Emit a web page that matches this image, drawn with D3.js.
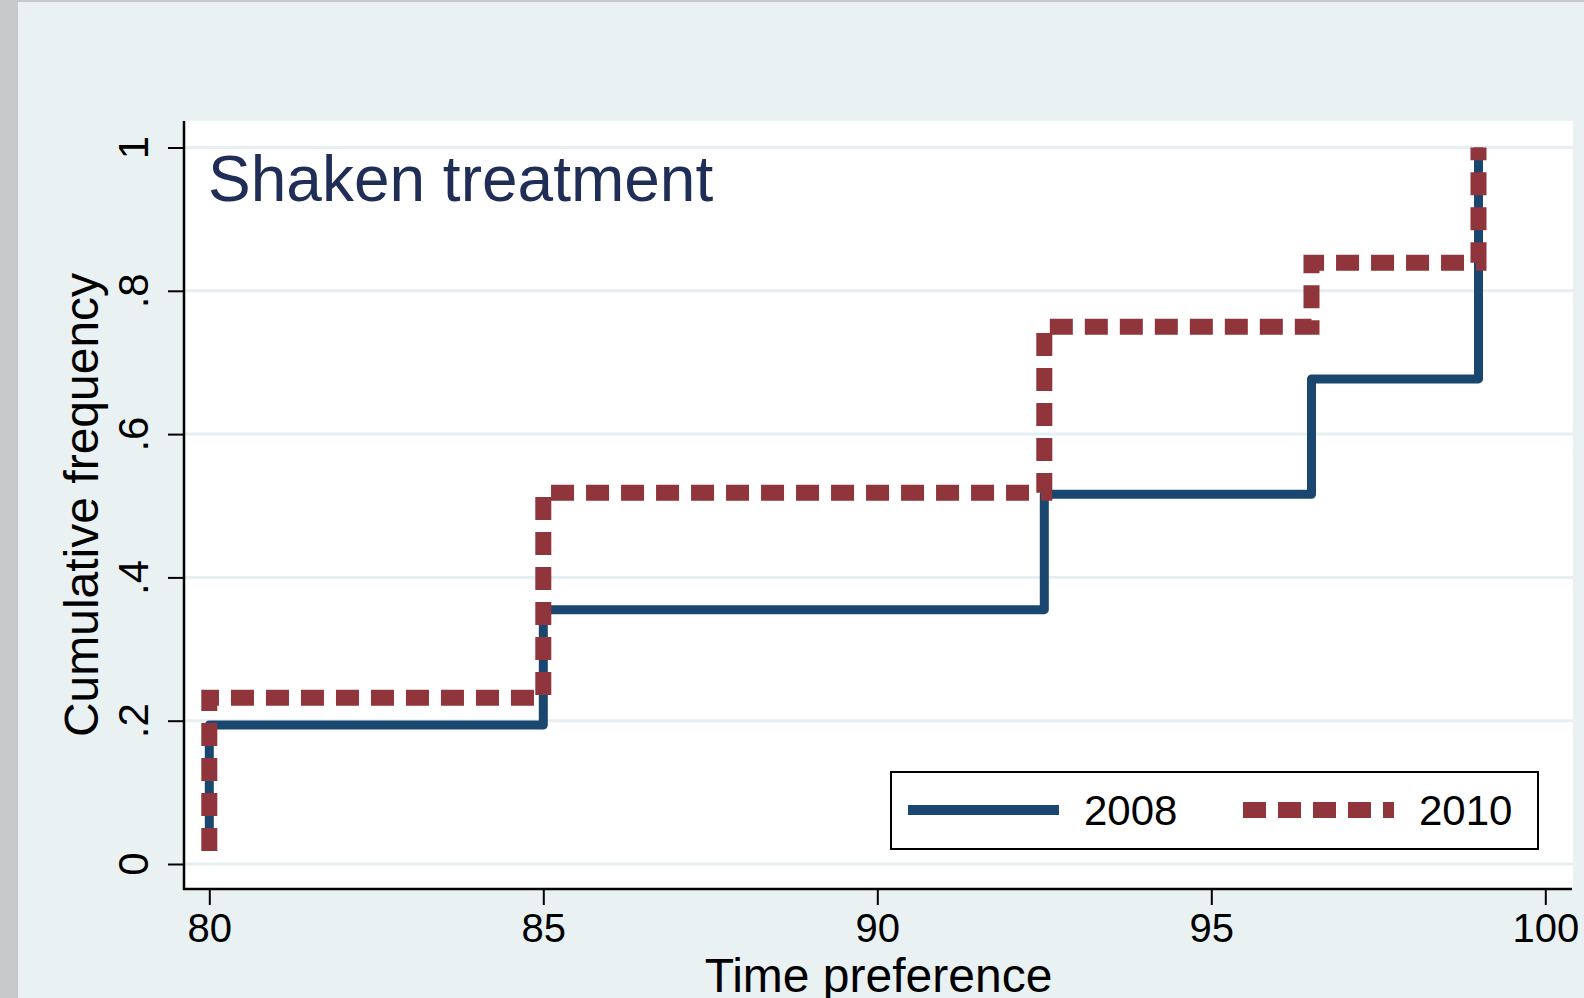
<!DOCTYPE html>
<html><head><meta charset="utf-8">
<script src="https://cdn.jsdelivr.net/npm/d3@7"></script>
<style>
html,body{margin:0;padding:0;background:#e9f1f3;}
svg{display:block;}
text{font-family:"Liberation Sans",Arial,Helvetica,sans-serif;}
</style>
</head><body>
<svg id="c" width="1584" height="998"></svg>
<script>
// ---- data ----
const xTicks = [80, 85, 90, 95, 100];
const xTickLabels = ["80", "85", "90", "95", "100"];
const yTicks = [0, 0.2, 0.4, 0.6, 0.8, 1];
const yTickLabels = ["0", ".2", ".4", ".6", ".8", "1"];
const seriesNames = ["2008", "2010"];
const timePref2008 = [80, 80, 85, 92.5, 96.5, 99];
const cumFreq2008 = [0.032, 0.194, 0.355, 0.516, 0.677, 1.0];
const timePref2010 = [80, 80, 85, 92.5, 96.5, 99];
const cumFreq2010 = [0.018, 0.232, 0.518, 0.750, 0.839, 1.0];
const panelTitle = "Shaken treatment";
const xTitle = "Time preference";
const yTitle = "Cumulative frequency";

// ---- layout ----
const W = 1584, H = 998;
const plot = {left: 184, top: 121, right: 1573, bottom: 889};
const colors = {s2008: "#1a476f", s2010: "#90353b", bg: "#e9f1f3", grid: "#e6eff1", title: "#1f2d57"};

const svg = d3.select("#c");
svg.append("rect").attr("x", 0).attr("y", 0).attr("width", W).attr("height", H).attr("fill", colors.bg);
svg.append("rect").attr("x", 0).attr("y", 0).attr("width", 18).attr("height", H).attr("fill", "#c8c9cb");
svg.append("rect").attr("x", 0).attr("y", 0).attr("width", W).attr("height", 2).attr("fill", "#c8c9cb");

const x = d3.scaleLinear().domain([80, 100]).range([209.3, 1545.3]);
const y = d3.scaleLinear().domain([0, 1]).range([864, 147.5]);

// plot region
svg.append("rect").attr("x", plot.left).attr("y", plot.top)
  .attr("width", plot.right - plot.left).attr("height", plot.bottom - plot.top).attr("fill", "#ffffff");

// gridlines
svg.append("g").selectAll("line").data(yTicks).join("line")
  .attr("x1", plot.left).attr("x2", plot.right)
  .attr("y1", d => y(d)).attr("y2", d => y(d))
  .attr("stroke", colors.grid).attr("stroke-width", 3);

// x axis
const xAxis = d3.axisBottom(x).tickValues(xTicks).tickFormat((d, i) => xTickLabels[i])
  .tickSize(16).tickSizeOuter(0).tickPadding(8.6);
const gx = svg.append("g").attr("transform", `translate(0,${plot.bottom})`).call(xAxis);
gx.select(".domain").remove();
gx.selectAll(".tick line").attr("stroke", "#000").attr("stroke-width", 2);
gx.selectAll(".tick text").attr("fill", "#000").style("font-size", "40px")
  .style("font-family", "'Liberation Sans', Arial, sans-serif");
svg.append("line").attr("x1", plot.left - 1).attr("x2", plot.right - 1)
  .attr("y1", plot.bottom).attr("y2", plot.bottom).attr("stroke", "#000").attr("stroke-width", 2.5);

// y axis
const yAxis = d3.axisLeft(y).tickValues(yTicks).tickFormat("").tickSize(16).tickSizeOuter(0);
const gy = svg.append("g").attr("transform", `translate(${plot.left},0)`).call(yAxis);
gy.select(".domain").remove();
gy.selectAll(".tick line").attr("stroke", "#000").attr("stroke-width", 2);
svg.append("line").attr("x1", plot.left).attr("x2", plot.left)
  .attr("y1", plot.top).attr("y2", plot.bottom + 1).attr("stroke", "#000").attr("stroke-width", 2.5);
svg.append("g").selectAll("text").data(yTicks).join("text")
  .attr("transform", d => `translate(148,${y(d)}) rotate(-90)`)
  .attr("text-anchor", "middle").attr("fill", "#000").style("font-size", "42px")
  .text((d, i) => yTickLabels[i]);

// axis titles
svg.append("text").attr("x", (plot.left + plot.right) / 2).attr("y", 992)
  .attr("text-anchor", "middle").style("font-size", "48px").attr("fill", "#000").text(xTitle);
svg.append("text").attr("transform", `translate(98,${(plot.top + plot.bottom) / 2}) rotate(-90)`)
  .attr("text-anchor", "middle").style("font-size", "48px").attr("fill", "#000").text(yTitle);

// series
const line = d3.line().x(d => x(d[0])).y(d => y(d[1])).curve(d3.curveStepAfter);
const d2008 = timePref2008.map((v, i) => [v, cumFreq2008[i]]);
const d2010 = timePref2010.map((v, i) => [v, cumFreq2010[i]]);
svg.append("path").datum(d2008).attr("d", line).attr("fill", "none")
  .attr("stroke", colors.s2008).attr("stroke-width", 9).attr("stroke-linejoin", "round");
svg.append("path").datum(d2010).attr("d", line).attr("fill", "none")
  .attr("stroke", colors.s2010).attr("stroke-width", 16).attr("stroke-dasharray", "23,12")
  .attr("stroke-linejoin", "miter");

// panel title
svg.append("text").attr("x", 208).attr("y", 201).style("font-size", "64px")
  .attr("fill", colors.title).text(panelTitle);

// legend
const lg = svg.append("g");
lg.append("rect").attr("x", 891).attr("y", 772).attr("width", 647).attr("height", 77)
  .attr("fill", "#fff").attr("stroke", "#000").attr("stroke-width", 2);
const legendItems = [
  {name: seriesNames[0], x1: 908, x2: 1059, tx: 1084, color: colors.s2008, w: 10, dash: null},
  {name: seriesNames[1], x1: 1243, x2: 1394, tx: 1419, color: colors.s2010, w: 16, dash: "23,12"}
];
legendItems.forEach(it => {
  lg.append("line").attr("x1", it.x1).attr("x2", it.x2).attr("y1", 810).attr("y2", 810)
    .attr("stroke", it.color).attr("stroke-width", it.w).attr("stroke-dasharray", it.dash);
  lg.append("text").attr("x", it.tx).attr("y", 825).style("font-size", "42px")
    .attr("fill", "#000").text(it.name);
});
</script>
</body></html>
